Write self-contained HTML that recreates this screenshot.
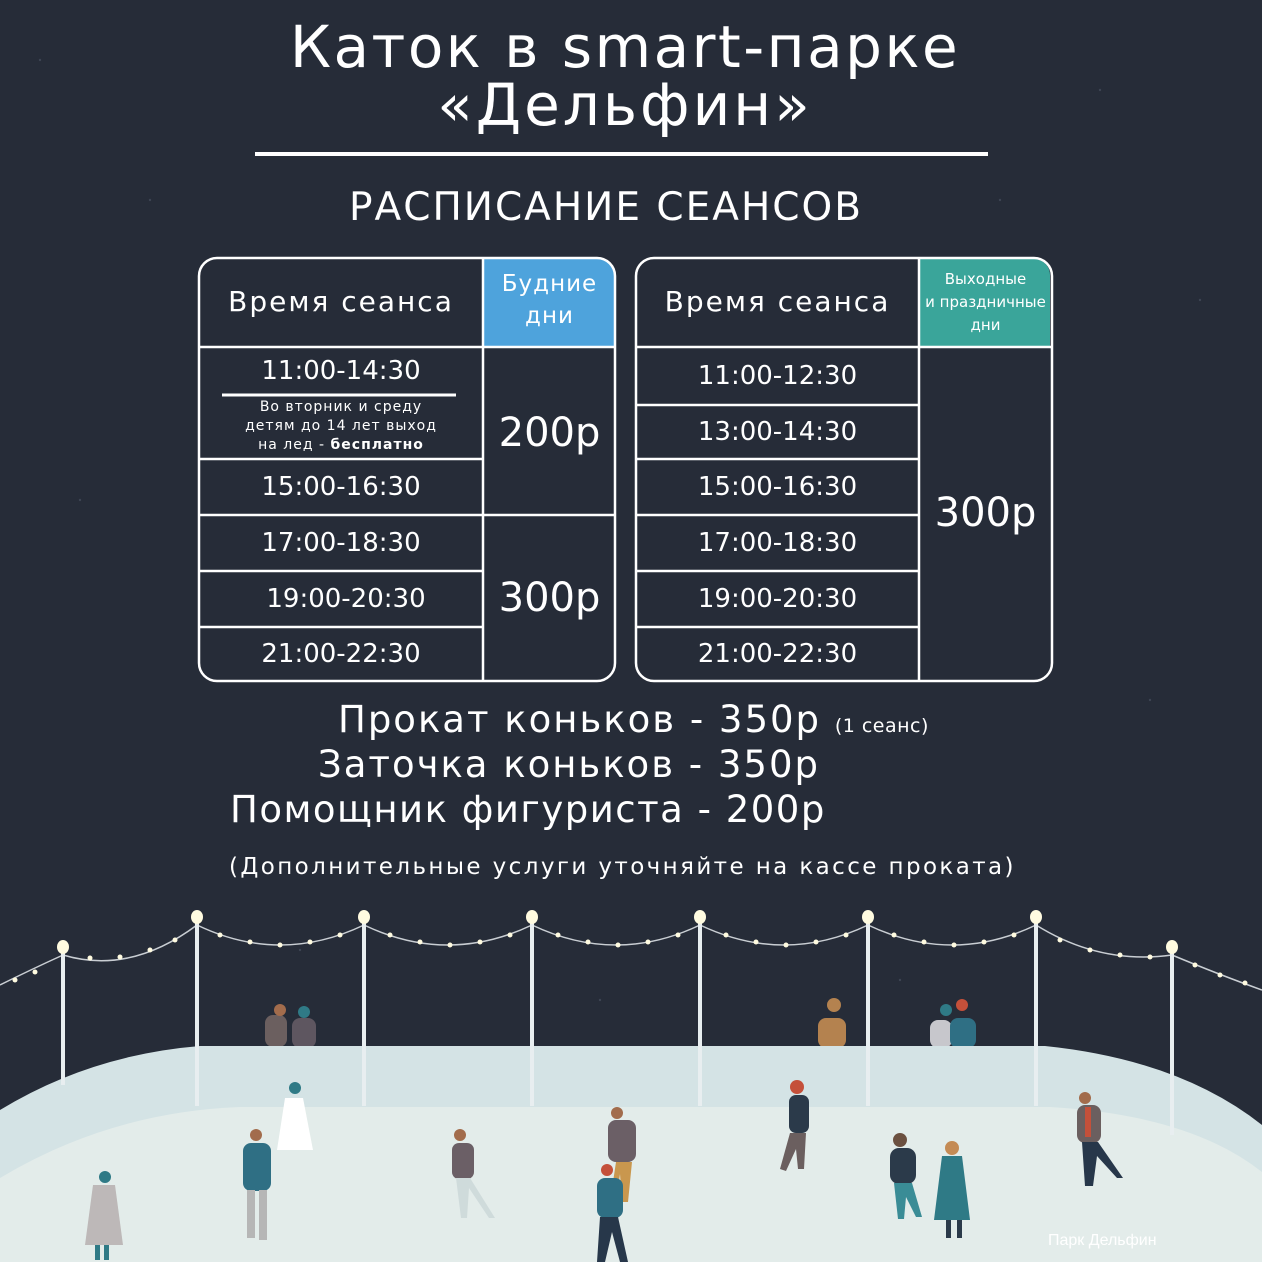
<!DOCTYPE html>
<html><head><meta charset="utf-8"><style>
html,body{margin:0;padding:0;background:#262c38;}
body{width:1262px;height:1262px;position:relative;overflow:hidden;font-family:"DejaVu Sans","Liberation Sans",sans-serif;color:#fff;}
.t{position:absolute;white-space:nowrap;text-align:center;}
</style></head><body>
<svg width="1262" height="1262" style="position:absolute;left:0;top:0" xmlns="http://www.w3.org/2000/svg">
<rect width="1262" height="1262" fill="#262c38"/>
<g fill="#3d4452">
<circle cx="40" cy="60" r="1.2"/><circle cx="150" cy="200" r="1.2"/><circle cx="1100" cy="90" r="1.2"/><circle cx="1200" cy="300" r="1.2"/><circle cx="80" cy="500" r="1.2"/><circle cx="1150" cy="700" r="1.2"/><circle cx="300" cy="950" r="1.2"/><circle cx="900" cy="980" r="1.2"/><circle cx="600" cy="1000" r="1.2"/><circle cx="1000" cy="200" r="1.2"/>
</g>
<line x1="255" y1="154" x2="988" y2="154" stroke="#fff" stroke-width="4"/>
<path d="M483 259 H598 a16 16 0 0 1 16 16 V347 H483Z" fill="#4ea3dc"/>
<rect x="199" y="258" width="416" height="423" rx="18" fill="none" stroke="#fff" stroke-width="2.5"/>
<g stroke="#fff" stroke-width="2.5">
<line x1="483" y1="258" x2="483" y2="681"/><line x1="199" y1="347" x2="615" y2="347"/>
<line x1="199" y1="459" x2="483" y2="459"/><line x1="199" y1="515" x2="615" y2="515"/>
<line x1="199" y1="571" x2="483" y2="571"/><line x1="199" y1="627" x2="483" y2="627"/>
<line x1="222" y1="395" x2="456" y2="395" stroke-width="3"/>
</g>
<path d="M919 259 H1034 a16 16 0 0 1 16 16 V347 H919Z" fill="#3aa59a"/>
<rect x="636" y="258" width="416" height="423" rx="18" fill="none" stroke="#fff" stroke-width="2.5"/>
<g stroke="#fff" stroke-width="2.5">
<line x1="919" y1="258" x2="919" y2="681"/><line x1="636" y1="347" x2="1052" y2="347"/>
<line x1="636" y1="405" x2="919" y2="405"/><line x1="636" y1="459" x2="919" y2="459"/>
<line x1="636" y1="515" x2="919" y2="515"/><line x1="636" y1="571" x2="919" y2="571"/>
<line x1="636" y1="627" x2="919" y2="627"/>
</g>
<g fill="none" stroke="#c9ced3" stroke-width="1.5">
<path d="M0 985 Q30 970 63 955"/><path d="M63 955 Q130 975 197 925"/><path d="M197 925 Q280 965 364 925"/><path d="M364 925 Q448 965 532 925"/><path d="M532 925 Q616 965 700 925"/><path d="M700 925 Q784 965 868 925"/><path d="M868 925 Q952 965 1036 925"/><path d="M1036 925 Q1100 965 1172 955"/><path d="M1172 955 Q1220 975 1262 990"/>
</g>
<g fill="#fffbe0">
<circle cx="15" cy="980" r="2.5"/><circle cx="35" cy="972" r="2.5"/><circle cx="90" cy="958" r="2.5"/><circle cx="120" cy="957" r="2.5"/><circle cx="150" cy="950" r="2.5"/><circle cx="175" cy="940" r="2.5"/>
<circle cx="220" cy="935" r="2.5"/><circle cx="250" cy="942" r="2.5"/><circle cx="280" cy="945" r="2.5"/><circle cx="310" cy="942" r="2.5"/><circle cx="340" cy="935" r="2.5"/>
<circle cx="390" cy="935" r="2.5"/><circle cx="420" cy="942" r="2.5"/><circle cx="450" cy="945" r="2.5"/><circle cx="480" cy="942" r="2.5"/><circle cx="510" cy="935" r="2.5"/>
<circle cx="558" cy="935" r="2.5"/><circle cx="588" cy="942" r="2.5"/><circle cx="618" cy="945" r="2.5"/><circle cx="648" cy="942" r="2.5"/><circle cx="678" cy="935" r="2.5"/>
<circle cx="726" cy="935" r="2.5"/><circle cx="756" cy="942" r="2.5"/><circle cx="786" cy="945" r="2.5"/><circle cx="816" cy="942" r="2.5"/><circle cx="846" cy="935" r="2.5"/>
<circle cx="894" cy="935" r="2.5"/><circle cx="924" cy="942" r="2.5"/><circle cx="954" cy="945" r="2.5"/><circle cx="984" cy="942" r="2.5"/><circle cx="1014" cy="935" r="2.5"/>
<circle cx="1060" cy="940" r="2.5"/><circle cx="1090" cy="950" r="2.5"/><circle cx="1120" cy="955" r="2.5"/><circle cx="1150" cy="957" r="2.5"/>
<circle cx="1195" cy="965" r="2.5"/><circle cx="1220" cy="975" r="2.5"/><circle cx="1245" cy="983" r="2.5"/>
</g>
<g>
<rect x="265" y="1015" width="22" height="32" rx="8" fill="#6b5f5f"/><circle cx="280" cy="1010" r="6" fill="#a26c4c"/>
<rect x="292" y="1018" width="24" height="30" rx="8" fill="#5e5660"/><circle cx="304" cy="1012" r="6" fill="#2f7a86"/>
<rect x="818" y="1018" width="28" height="30" rx="8" fill="#b4824f"/><circle cx="834" cy="1005" r="7" fill="#b4824f"/>
<rect x="930" y="1020" width="22" height="28" rx="8" fill="#c7c7cc"/><circle cx="946" cy="1010" r="6" fill="#2f7a86"/>
<rect x="950" y="1018" width="26" height="30" rx="8" fill="#2f6f84"/><circle cx="962" cy="1005" r="6" fill="#c4503a"/>
</g>
<path d="M0 1110 Q90 1055 200 1046 H1045 Q1180 1060 1262 1125 V1262 H0Z" fill="#d4e3e5"/>
<path d="M0 1178 Q110 1112 240 1107 H1050 Q1190 1115 1262 1172 V1262 H0Z" fill="#e3ecea"/>
<g fill="#e8eef0">
<rect x="61" y="950" width="4" height="135"/><rect x="195" y="920" width="4" height="186"/><rect x="362" y="920" width="4" height="186"/><rect x="530" y="920" width="4" height="186"/><rect x="698" y="920" width="4" height="186"/><rect x="866" y="920" width="4" height="186"/><rect x="1034" y="920" width="4" height="186"/><rect x="1170" y="950" width="4" height="185"/>
</g>
<g fill="#fffbe0">
<ellipse cx="63" cy="947" rx="6" ry="7"/><ellipse cx="197" cy="917" rx="6" ry="7"/><ellipse cx="364" cy="917" rx="6" ry="7"/><ellipse cx="532" cy="917" rx="6" ry="7"/><ellipse cx="700" cy="917" rx="6" ry="7"/><ellipse cx="868" cy="917" rx="6" ry="7"/><ellipse cx="1036" cy="917" rx="6" ry="7"/><ellipse cx="1172" cy="947" rx="6" ry="7"/>
</g>
<g>
<circle cx="105" cy="1177" r="6" fill="#2f7a86"/><path d="M93 1185h22l8 60h-38z" fill="#bdb8b8"/><rect x="95" y="1245" width="5" height="15" fill="#2f7a86"/><rect x="104" y="1245" width="5" height="15" fill="#2f7a86"/>
<circle cx="295" cy="1088" r="6" fill="#2f7a86"/><path d="M285 1098h18l10 52h-36z" fill="#fff"/>
<circle cx="256" cy="1135" r="6" fill="#a26c4c"/><rect x="243" y="1143" width="28" height="48" rx="8" fill="#2f6f84"/><rect x="247" y="1190" width="8" height="48" fill="#b6b6b6"/><rect x="259" y="1190" width="8" height="50" fill="#b6b6b6"/>
<circle cx="460" cy="1135" r="6" fill="#a26c4c"/><rect x="452" y="1143" width="22" height="36" rx="7" fill="#6b5f66"/><path d="M456 1178h14l25 40h-6l-20-30-2 30h-6z" fill="#cfdbdb"/>
<circle cx="617" cy="1113" r="6" fill="#a26c4c"/><rect x="608" y="1120" width="28" height="42" rx="8" fill="#6b5f66"/><path d="M616 1162h16l-4 40h-6l-2-28-4 28h-6z" fill="#c9974e"/>
<circle cx="607" cy="1170" r="6" fill="#c4503a"/><rect x="597" y="1178" width="26" height="40" rx="8" fill="#2f6f84"/><path d="M600 1217h18l10 45h-8l-8-30-7 30h-8z" fill="#27374a"/>
<circle cx="797" cy="1087" r="7" fill="#c4503a"/><rect x="789" y="1095" width="20" height="38" rx="7" fill="#2b3a4a"/><path d="M790 1133h16l-2 36h-6l-2-20-10 22-6-2z" fill="#6b5f5f"/>
<circle cx="900" cy="1140" r="7" fill="#6b5040"/><rect x="890" y="1148" width="26" height="36" rx="9" fill="#2b3a4a"/><path d="M894 1183h18l10 34h-6l-10-20-2 22h-6z" fill="#3a8c96"/>
<circle cx="952" cy="1148" r="7" fill="#c48b55"/><path d="M942 1156h20l8 64h-36z" fill="#2f7a86"/><rect x="946" y="1220" width="5" height="18" fill="#2b3a4a"/><rect x="957" y="1220" width="5" height="18" fill="#2b3a4a"/>
<circle cx="1085" cy="1098" r="6" fill="#a26c4c"/><rect x="1077" y="1105" width="24" height="38" rx="8" fill="#6b5f5f"/><rect x="1085" y="1107" width="6" height="30" fill="#c4503a"/><path d="M1082 1142h16l25 36h-6l-20-22-4 30h-8z" fill="#27374a"/>
</g>
</svg>
<div class="t" style="left:0;width:1250px;top:12px;font-size:58px;letter-spacing:2.5px;line-height:70px;">Каток в smart-парке</div>
<div class="t" style="left:0;width:1250px;top:70px;font-size:58px;letter-spacing:3px;line-height:70px;">«Дельфин»</div>
<div class="t" style="left:0;width:1212px;top:183px;font-size:39px;letter-spacing:2px;line-height:50px;">РАСПИСАНИЕ СЕАНСОВ</div>
<div class="t" style="left:199px;width:284px;top:282px;font-size:28px;letter-spacing:2px;line-height:40px;">Время сеанса</div>
<div class="t" style="left:483px;width:133px;top:268px;font-size:23px;line-height:32px;letter-spacing:1px;">Будние<br>дни</div>
<div class="t" style="left:636px;width:283px;top:282px;font-size:28px;letter-spacing:2px;line-height:40px;">Время сеанса</div>
<div class="t" style="left:919px;width:133px;top:268px;font-size:15px;line-height:23px;">Выходные<br>и праздничные<br>дни</div>
<div class="t" style="left:199px;width:284px;top:353px;font-size:26px;line-height:36px;">11:00-14:30</div>
<div class="t" style="left:199px;width:284px;top:398px;font-size:14px;line-height:19px;letter-spacing:1px;">Во вторник и среду<br>детям до 14 лет выход<br>на лед - <b>бесплатно</b></div>
<div class="t" style="left:199px;width:284px;top:469px;font-size:26px;line-height:36px;">15:00-16:30</div>
<div class="t" style="left:199px;width:284px;top:525px;font-size:26px;line-height:36px;">17:00-18:30</div>
<div class="t" style="left:199px;width:294px;top:581px;font-size:26px;line-height:36px;">19:00-20:30</div>
<div class="t" style="left:199px;width:284px;top:636px;font-size:26px;line-height:36px;">21:00-22:30</div>
<div class="t" style="left:483px;width:133px;top:408px;font-size:40px;line-height:50px;">200р</div>
<div class="t" style="left:483px;width:133px;top:573px;font-size:40px;line-height:50px;">300р</div>
<div class="t" style="left:636px;width:283px;top:358px;font-size:26px;line-height:36px;">11:00-12:30</div>
<div class="t" style="left:636px;width:283px;top:414px;font-size:26px;line-height:36px;">13:00-14:30</div>
<div class="t" style="left:636px;width:283px;top:469px;font-size:26px;line-height:36px;">15:00-16:30</div>
<div class="t" style="left:636px;width:283px;top:525px;font-size:26px;line-height:36px;">17:00-18:30</div>
<div class="t" style="left:636px;width:283px;top:581px;font-size:26px;line-height:36px;">19:00-20:30</div>
<div class="t" style="left:636px;width:283px;top:636px;font-size:26px;line-height:36px;">21:00-22:30</div>
<div class="t" style="left:919px;width:133px;top:488px;font-size:40px;line-height:50px;">300р</div>
<div class="t" style="left:338px;top:697px;font-size:37px;letter-spacing:2px;line-height:46px;text-align:left;">Прокат коньков - 350р <span style="font-size:19px;letter-spacing:0.5px">(1 сеанс)</span></div>
<div class="t" style="left:318px;top:742px;font-size:37px;letter-spacing:2px;line-height:46px;text-align:left;">Заточка коньков - 350р</div>
<div class="t" style="left:230px;top:787px;font-size:37px;letter-spacing:1.5px;line-height:46px;text-align:left;">Помощник фигуриста - 200р</div>
<div class="t" style="left:229px;top:851px;font-size:23px;letter-spacing:2.4px;line-height:32px;text-align:left;">(Дополнительные услуги уточняйте на кассе проката)</div>
<div class="t" style="left:1048px;top:1230px;font-size:16px;line-height:22px;color:#ffffff;font-family:'Liberation Sans',sans-serif;">Парк Дельфин</div>
</body></html>
